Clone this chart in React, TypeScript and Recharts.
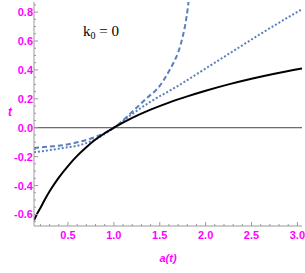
import { LineChart, Line, XAxis, YAxis, ReferenceLine } from 'recharts';

// solid black curve
const solidA = [0.13, 0.16, 0.2, 0.25, 0.3, 0.4, 0.5, 0.6, 0.7, 0.8, 0.9, 1.0, 1.2, 1.4, 1.6, 1.8, 2.0, 2.25, 2.5, 2.75, 3.05];
const solidT = [-0.64, -0.6, -0.555, -0.495, -0.44, -0.345, -0.265, -0.195, -0.135, -0.082, -0.038, 0, 0.068, 0.125, 0.174, 0.217, 0.256, 0.3, 0.339, 0.374, 0.41];

// dashed blue curve (runs off the top)
const dashedA = [0.13, 0.3, 0.45, 0.63, 0.8, 1.0, 1.2, 1.35, 1.5, 1.6, 1.65, 1.7, 1.75, 1.78, 1.81, 1.83, 1.85];
const dashedT = [-0.14, -0.13, -0.12, -0.097, -0.063, 0, 0.11, 0.2, 0.29, 0.39, 0.45, 0.52, 0.63, 0.72, 0.85, 0.97, 1.1];

// dotted blue curve
const dottedA = [0.13, 0.3, 0.45, 0.63, 0.8, 1.0, 1.2, 1.4, 1.7, 2.0, 2.3, 2.6, 3.05];
const dottedT = [-0.17, -0.155, -0.14, -0.12, -0.08, 0, 0.095, 0.18, 0.29, 0.41, 0.53, 0.65, 0.82];

const xMajorTicks = [0.5, 1.0, 1.5, 2.0, 2.5, 3.0];
const yMajorTicks = [-0.6, -0.4, -0.2, 0.0, 0.2, 0.4, 0.6, 0.8];

const X_DOMAIN: [number, number] = [0.13, 3.05];
const Y_DOMAIN: [number, number] = [-0.68, 0.87];

const MAGENTA = '#ff00ff';
const BLUE = '#5b7fba';
const FRAME = '#9a9a9a';
const LABEL_FONT = '"Liberation Sans Narrow", "Liberation Sans", Arial, sans-serif';

const toPoints = (a: number[], t: number[]) => a.map((v, i) => ({ a: v, t: t[i] }));

// majors plus minor ticks in between
function allTicks(lo: number, hi: number, step: number) {
  const out: number[] = [];
  for (let k = Math.ceil(lo / step - 1e-9); k * step <= hi + 1e-9; k++) {
    out.push(Math.round(k * step * 1000) / 1000);
  }
  return out;
}
const isMajor = (v: number, majors: number[]) => majors.some((m) => Math.abs(m - v) < 1e-6);

const xTicks = allTicks(X_DOMAIN[0], X_DOMAIN[1], 0.1);
const yTicks = allTicks(Y_DOMAIN[0], Y_DOMAIN[1], 0.05);

const makeTick = (side: 'bottom' | 'top' | 'left' | 'right', majors: number[]) => (props: any) => {
  const { x, y, payload } = props;
  const v = payload.value;
  const major = isMajor(v, majors);
  const len = major ? 4 : 2;
  let x2 = x;
  let y2 = y;
  if (side === 'bottom') y2 = y - len;
  if (side === 'top') y2 = y + len;
  if (side === 'left') x2 = x + len;
  if (side === 'right') x2 = x - len;
  return (
    <g>
      <line x1={x} y1={y} x2={x2} y2={y2} stroke={FRAME} strokeWidth={1} />
      {major && side === 'bottom' && (
        <text x={x} y={y + 13} textAnchor="middle" fill={MAGENTA} fontSize={11} fontWeight="bold" fontFamily={LABEL_FONT}>
          {v.toFixed(1)}
        </text>
      )}
      {major && side === 'left' && (
        <text x={x - 1} y={y + 4} textAnchor="end" fill={MAGENTA} fontSize={11} fontWeight="bold" fontFamily={LABEL_FONT}>
          {v.toFixed(1)}
        </text>
      )}
    </g>
  );
};

export default function App() {
  return (
    <div style={{ position: 'absolute', left: 0, top: 0, width: 305, height: 273, background: '#fff' }}>
      <LineChart width={305} height={273} margin={{ top: 2, right: 3, bottom: 0, left: 0 }}>
        <XAxis
          dataKey="a"
          type="number"
          domain={X_DOMAIN}
          allowDataOverflow
          ticks={xTicks}
          interval={0}
          height={47}
          stroke={FRAME}
          tickLine={false}
          tickSize={0}
          tickMargin={0}
          tick={makeTick('bottom', xMajorTicks)}
          label={{
            content: (p: any) => (
              <text
                x={p.viewBox.x + p.viewBox.width / 2}
                y={p.viewBox.y + 36}
                textAnchor="middle"
                fill={MAGENTA}
                fontSize={11}
                fontStyle="italic"
                fontWeight="bold"
                fontFamily={LABEL_FONT}
              >
                a(t)
              </text>
            ),
          }}
        />
        <XAxis
          xAxisId="top"
          orientation="top"
          type="number"
          domain={X_DOMAIN}
          allowDataOverflow
          ticks={xTicks}
          interval={0}
          height={0}
          stroke={FRAME}
          tickLine={false}
          tickSize={0}
          tickMargin={0}
          tick={makeTick('top', xMajorTicks)}
        />
        <YAxis
          type="number"
          domain={Y_DOMAIN}
          allowDataOverflow
          ticks={yTicks}
          interval={0}
          width={34}
          stroke={FRAME}
          tickLine={false}
          tickSize={0}
          tickMargin={0}
          tick={makeTick('left', yMajorTicks)}
          label={{
            content: () => (
              <text
                x={10}
                y={116}
                textAnchor="middle"
                fill={MAGENTA}
                fontSize={12}
                fontStyle="italic"
                fontWeight="bold"
                fontFamily={LABEL_FONT}
              >
                t
              </text>
            ),
          }}
        />
        <YAxis
          yAxisId="right"
          orientation="right"
          type="number"
          domain={Y_DOMAIN}
          allowDataOverflow
          ticks={yTicks}
          interval={0}
          width={0}
          stroke={FRAME}
          tickLine={false}
          tickSize={0}
          tickMargin={0}
          tick={makeTick('right', yMajorTicks)}
        />
        <ReferenceLine y={0} stroke="#444" strokeWidth={1} />
        <Line
          data={toPoints(dottedA, dottedT)}
          dataKey="t"
          type="monotone"
          stroke={BLUE}
          strokeWidth={2}
          strokeDasharray="2 2"
          dot={false}
          isAnimationActive={false}
        />
        <Line
          data={toPoints(dashedA, dashedT)}
          dataKey="t"
          type="monotone"
          stroke={BLUE}
          strokeWidth={2}
          strokeDasharray="5 3"
          dot={false}
          isAnimationActive={false}
        />
        <Line
          data={toPoints(solidA, solidT)}
          dataKey="t"
          type="monotone"
          stroke="#000"
          strokeWidth={2}
          dot={false}
          isAnimationActive={false}
        />
      </LineChart>
      <div
        style={{
          position: 'absolute',
          left: 83,
          top: 23,
          fontFamily: '"Liberation Serif", "Times New Roman", serif',
          fontSize: 15,
          color: '#000',
          whiteSpace: 'nowrap',
        }}
      >
        k<span style={{ fontSize: 10, position: 'relative', top: 3 }}>0</span> = 0
      </div>
    </div>
  );
}
